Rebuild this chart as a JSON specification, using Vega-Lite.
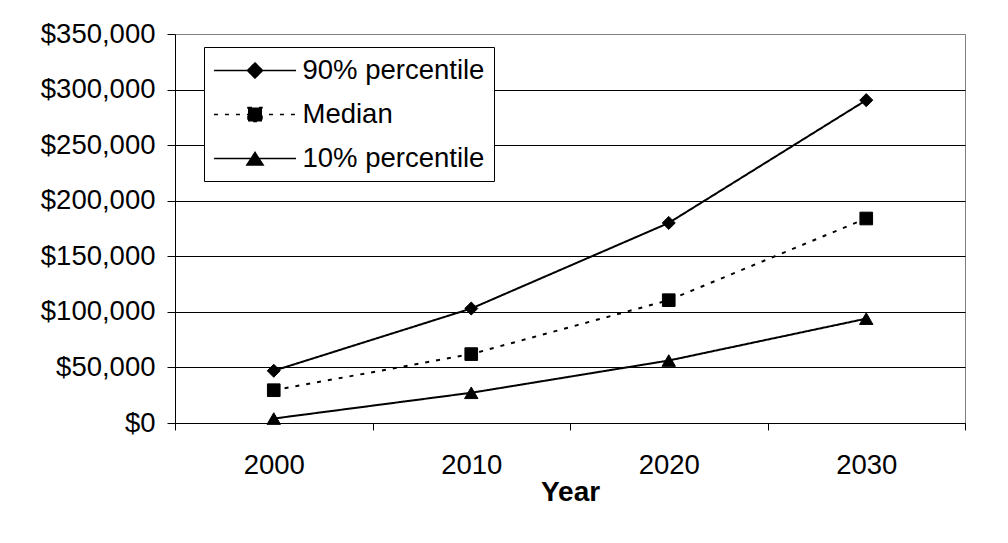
{
  "$schema": "https://vega.github.io/schema/vega-lite/v6.json",
  "width": 790,
  "height": 389,
  "autosize": {"type": "none"},
  "padding": {"left": 175, "top": 34, "right": 43, "bottom": 120},
  "background": "white",
  "config": {
    "font": "Liberation Sans",
    "view": {"stroke": "#808080", "strokeWidth": 1},
    "axis": {
      "labelColor": "#000",
      "domainColor": "#000",
      "tickColor": "#000",
      "titleColor": "#000",
      "labelFont": "Liberation Sans",
      "titleFont": "Liberation Sans",
      "labelFontSize": 27.5,
      "domainWidth": 1,
      "tickWidth": 1
    }
  },
  "data": {
    "values": [
      {"year": 2000, "series": "90% percentile", "value": 47000},
      {"year": 2010, "series": "90% percentile", "value": 103000},
      {"year": 2020, "series": "90% percentile", "value": 180000},
      {"year": 2030, "series": "90% percentile", "value": 290500},
      {"year": 2000, "series": "Median", "value": 29500},
      {"year": 2010, "series": "Median", "value": 62000},
      {"year": 2020, "series": "Median", "value": 110500},
      {"year": 2030, "series": "Median", "value": 184000},
      {"year": 2000, "series": "10% percentile", "value": 4000},
      {"year": 2010, "series": "10% percentile", "value": 27200},
      {"year": 2020, "series": "10% percentile", "value": 56200},
      {"year": 2030, "series": "10% percentile", "value": 93900}
    ]
  },
  "encoding": {
    "x": {
      "field": "year",
      "type": "quantitative",
      "scale": {"domain": [1995, 2035], "nice": false, "zero": false},
      "axis": {
        "values": [1995, 2000, 2005, 2010, 2015, 2020, 2025, 2030, 2035],
        "format": "d",
        "labelExpr": "datum.value % 10 == 0 ? datum.label : ''",
        "tickOpacity": {"condition": {"test": "datum.value % 10 == 5", "value": 1}, "value": 0},
        "tickSize": 7,
        "labelPadding": 21,
        "labelFlush": false,
        "labelOverlap": false,
        "grid": false,
        "title": "Year",
        "titleFontSize": 28,
        "titleFontWeight": "bold",
        "titlePadding": 0
      }
    },
    "y": {
      "field": "value",
      "type": "quantitative",
      "scale": {"domain": [0, 350000], "nice": false},
      "axis": {
        "values": [0, 50000, 100000, 150000, 200000, 250000, 300000, 350000],
        "format": "$,.0f",
        "tickSize": 8,
        "labelPadding": 12,
        "grid": true,
        "gridColor": {"condition": {"test": "datum.value == 350000", "value": "#808080"}, "value": "#000"},
        "gridWidth": 1,
        "title": null
      }
    }
  },
  "layer": [
    {
      "mark": {"type": "line", "color": "black", "strokeWidth": 2},
      "encoding": {
        "strokeDash": {
          "field": "series",
          "type": "nominal",
          "scale": {"domain": ["90% percentile", "Median", "10% percentile"], "range": [[1, 0], [4, 7], [1, 0]]},
          "legend": {
            "title": null,
            "orient": "none",
            "legendX": 29,
            "legendY": 13,
            "padding": 9,
            "strokeColor": "#000",
            "fillColor": "#fff",
            "cornerRadius": 0,
            "labelFont": "Liberation Sans",
            "labelFontSize": 27.5,
            "labelColor": "#000",
            "labelOffset": 33,
            "labelLimit": 400,
            "rowPadding": 16,
            "symbolSize": 729,
            "symbolOffset": 27.5,
            "symbolStrokeWidth": 1.5,
            "symbolStrokeColor": "#000",
            "symbolFillColor": "#000",
            "symbolType": "M-3.04,0H3.04",
            "encode": {
              "symbols": {
                "update": {
                  "shape": {"signal": "datum.value === 'Median' ? 'M-3.04,0H3.04M-0.52,-0.52H0.52V0.52H-0.52Z' : datum.value === '90% percentile' ? 'M-3.04,0H3.04M0,-0.56L0.56,0L0,0.56L-0.56,0Z' : 'M-3.04,0H3.04M0,-0.45L0.6,0.48H-0.6Z'"},
                  "fill": {"value": "#000"},
                  "stroke": {"value": "#000"},
                  "opacity": {"value": 1}
                }
              }
            }
          }
        }
      }
    },
    {
      "transform": [{"filter": "datum.series === '90% percentile'"}],
      "mark": {"type": "point", "shape": "diamond", "filled": true, "color": "black", "stroke": "black", "strokeWidth": 1, "size": 170, "opacity": 1}
    },
    {
      "transform": [{"filter": "datum.series === 'Median'"}],
      "mark": {"type": "point", "shape": "square", "filled": true, "color": "black", "stroke": "black", "strokeWidth": 1, "size": 160, "opacity": 1}
    },
    {
      "transform": [{"filter": "datum.series === '10% percentile'"}],
      "mark": {"type": "point", "shape": "triangle-up", "filled": true, "color": "black", "stroke": "black", "strokeWidth": 1, "size": 180, "opacity": 1}
    }
  ]
}
